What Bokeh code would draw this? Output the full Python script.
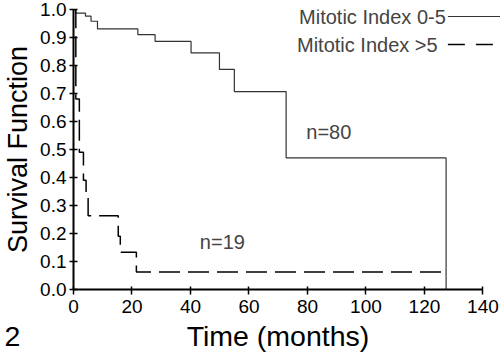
from bokeh.plotting import figure
from bokeh.models import FixedTicker, PrintfTickFormatter, Label, Range1d, Title
from bokeh.embed import file_html
from bokeh.resources import INLINE

# Kaplan-Meier step data
low_times = [0, 0.7, 4.1, 6.0, 8.2, 22.0, 27.9, 40.2, 49.9, 55.0, 72.7, 127.4]
low_surv = [1.0, 0.987, 0.976, 0.958, 0.931, 0.910, 0.886, 0.845, 0.786, 0.707, 0.470, 0.0]

high_times = [0, 0.8, 2.0, 3.4, 4.3, 5.0, 15.3, 16.0, 21.5, 127.4]
high_surv = [1.0, 0.68, 0.49, 0.39, 0.33, 0.263, 0.19, 0.133, 0.0625, 0.0625]

x_ticks = [0, 20, 40, 60, 80, 100, 120, 140]
y_ticks = [0.0, 0.1, 0.2, 0.3, 0.4, 0.5, 0.6, 0.7, 0.8, 0.9, 1.0]

legend_labels = ["Mitotic Index 0-5", "Mitotic Index >5"]
n_labels = ["n=80", "n=19"]
panel_tag = "2"
x_title = "Time (months)"

FONT = "Liberation Sans"

p = figure(width=500, height=354, output_backend="svg", toolbar_location=None,
           x_range=Range1d(0, 146.0), y_range=Range1d(0, 1.0),
           min_border_left=71, min_border_right=0, min_border_top=9, min_border_bottom=65)
p.outline_line_color = None
p.grid.grid_line_color = None
p.background_fill_color = "white"
p.border_fill_color = "white"

for ax in (p.xaxis[0], p.yaxis[0]):
    ax.axis_line_width = 2
    ax.axis_line_color = "black"
    ax.major_tick_line_width = 1.5
    ax.major_tick_line_color = "black"
    ax.minor_tick_line_color = None
    ax.major_label_text_font = FONT
    ax.major_label_text_font_size = "19px"
    ax.major_label_text_color = "black"

p.xaxis.ticker = FixedTicker(ticks=x_ticks)
p.xaxis.bounds = (0, 140)
p.xaxis.major_tick_in = 3
p.xaxis.major_tick_out = 5
p.xaxis.major_label_standoff = 5

p.yaxis.ticker = FixedTicker(ticks=y_ticks)
p.yaxis.formatter = PrintfTickFormatter(format="%.1f")
p.yaxis.major_tick_in = 4
p.yaxis.major_tick_out = 4
p.yaxis.major_label_standoff = 3
p.yaxis.axis_label = "Survival Function"
p.yaxis.axis_label_text_font = FONT
p.yaxis.axis_label_text_font_size = "27px"
p.yaxis.axis_label_text_font_style = "normal"
p.yaxis.axis_label_text_color = "black"
p.yaxis.axis_label_standoff = 4

p.step(low_times, low_surv, mode="after", line_color="#333333", line_width=1.2)
p.step(high_times, high_surv, mode="after", line_color="black", line_width=1.5,
       line_dash="21 8")

# legend (text on the left, line sample on the right)
p.segment(x0=[128.0], y0=[0.975], x1=[146.0], y1=[0.975], line_color="#333333", line_width=1.2)
p.segment(x0=[128.0], y0=[0.875], x1=[146.0], y1=[0.875], line_color="black", line_width=1.5,
          line_dash="17 11")
p.add_layout(Label(x=127.3, y=0.972, text=legend_labels[0], text_align="right",
                   text_baseline="middle", text_font=FONT, text_font_size="20px"))
p.add_layout(Label(x=124.5, y=0.872, text=legend_labels[1], text_align="right",
                   text_baseline="middle", text_font=FONT, text_font_size="20px"))

p.add_layout(Label(x=79.6, y=0.564, text=n_labels[0], text_align="left",
                   text_baseline="middle", text_font=FONT, text_font_size="20px"))
p.add_layout(Label(x=43.2, y=0.168, text=n_labels[1], text_align="left",
                   text_baseline="middle", text_font=FONT, text_font_size="20px"))

# panel tag "2" and the x axis title share one line below the axis
p.add_layout(Title(text=panel_tag + "\u00a0" * 21 + x_title, align="left", offset=-69,
                   standoff=4, text_font=FONT, text_font_size="28.5px",
                   text_font_style="normal", text_color="black"), "below")

open("out.html", "w").write(file_html(p, INLINE))
